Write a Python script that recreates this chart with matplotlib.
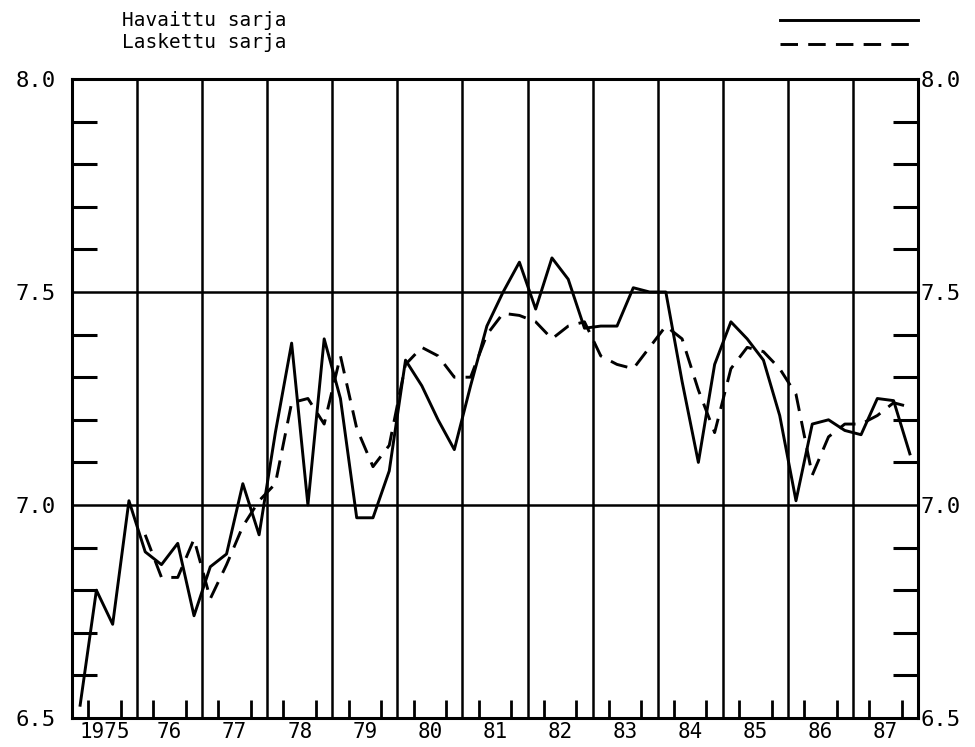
import numpy as np
import matplotlib
matplotlib.use("Agg")
import matplotlib.pyplot as plt
from matplotlib.lines import Line2D
from matplotlib.ticker import MultipleLocator, FixedLocator

plt.rcParams['font.family'] = ['DejaVu Sans Mono']

# quarterly data, 1975-1987
years = list(range(1975, 1988))
year_labels = ['1975', '76', '77', '78', '79', '80', '81', '82', '83', '84', '85', '86', '87']
y_levels = [6.5, 7.0, 7.5, 8.0]

observed = [
    6.53, 6.80, 6.72, 7.01,     # 1975
    6.89, 6.86, 6.91, 6.74,     # 1976
    6.855, 6.885, 7.05, 6.93,   # 1977
    7.17, 7.38, 7.00, 7.39,     # 1978
    7.25, 6.97, 6.97, 7.08,     # 1979
    7.34, 7.28, 7.20, 7.13,     # 1980
    7.28, 7.42, 7.50, 7.57,     # 1981
    7.46, 7.58, 7.53, 7.415,    # 1982
    7.42, 7.42, 7.51, 7.50,     # 1983
    7.50, 7.29, 7.10, 7.33,     # 1984
    7.43, 7.39, 7.34, 7.21,     # 1985
    7.01, 7.19, 7.20, 7.175,    # 1986
    7.165, 7.25, 7.245, 7.12,   # 1987
]

# computed series starts 1976 Q1
computed = [
    6.93, 6.83, 6.83, 6.92,     # 1976
    6.78, 6.86, 6.95, 7.01,     # 1977
    7.05, 7.24, 7.25, 7.19,     # 1978
    7.35, 7.18, 7.09, 7.14,     # 1979
    7.33, 7.37, 7.35, 7.30,     # 1980
    7.30, 7.40, 7.45, 7.445,    # 1981
    7.43, 7.39, 7.42, 7.43,     # 1982
    7.35, 7.33, 7.32, 7.37,     # 1983
    7.42, 7.39, 7.27, 7.17,     # 1984
    7.32, 7.37, 7.36, 7.32,     # 1985
    7.26, 7.07, 7.16, 7.19,     # 1986
    7.19, 7.21, 7.24, 7.23,     # 1987
]

x_obs = np.array([y + (q + 0.5) / 4 for y in years for q in range(4)])
x_comp = x_obs[4:]

fig = plt.figure(figsize=(9.75, 7.47), dpi=100)
ax = fig.add_axes([72 / 975, 1 - 718 / 747, (918 - 72) / 975, (718 - 79) / 747])

lw = 2.1
dash = (6, 3.5)
ax.plot(x_obs, observed, color='black', lw=lw)
ax.plot(x_comp, computed, color='black', lw=lw, dashes=dash)

# year dividers and reference levels
for y in years[1:]:
    ax.axvline(y, color='black', lw=1.8)
for lev in (7.0, 7.5):
    ax.axhline(lev, color='black', lw=1.8)

ax.set_xlim(1975, 1988)
ax.set_ylim(6.5, 8.0)

for s in ax.spines.values():
    s.set_linewidth(2.2)

fmt = plt.FuncFormatter(lambda v, p: f'{v:.1f}')

# right-hand labels sit close to the frame (separate axis for its own pad)
ax2 = ax.twinx()
ax2.set_ylim(ax.get_ylim())
ax2.yaxis.set_major_locator(FixedLocator(y_levels))
ax2.yaxis.set_major_formatter(fmt)
ax2.tick_params(axis='y', which='major', length=0, labelsize=16, pad=2)
for s in ax2.spines.values():
    s.set_visible(False)

# left y axis: labels at half units, tenth ticks pointing in on both sides
ax.yaxis.set_major_locator(FixedLocator(y_levels))
ax.yaxis.set_major_formatter(fmt)
ax.yaxis.set_minor_locator(MultipleLocator(0.1))
ax.tick_params(axis='y', which='major', length=0, labelsize=16, pad=12)
ax.tick_params(axis='y', which='minor', direction='in', length=18, width=2.2,
               left=True, right=True)

# x axis: quarter ticks, year labels centred in each year
quarter_ticks = [y + q / 4 for y in years for q in (1, 2, 3)]
ax.xaxis.set_minor_locator(FixedLocator(quarter_ticks))
ax.xaxis.set_major_locator(FixedLocator([y + 0.5 for y in years]))
ax.set_xticklabels(year_labels)
ax.tick_params(axis='x', which='major', length=0, labelsize=15, pad=3)
ax.tick_params(axis='x', which='minor', direction='in', length=13, width=2.0)

# legend drawn at the top like the plotter output
fig.text(122 / 975, 1 - 21 / 747, 'Havaittu sarja', fontsize=14, va='center', ha='left')
fig.text(122 / 975, 1 - 43 / 747, 'Laskettu sarja', fontsize=14, va='center', ha='left')
fig.add_artist(Line2D([780 / 975, 918 / 975], [1 - 20 / 747, 1 - 20 / 747],
                      color='black', lw=lw, transform=fig.transFigure))
fig.add_artist(Line2D([780 / 975, 918 / 975], [1 - 44 / 747, 1 - 44 / 747],
                      color='black', lw=lw, dashes=dash, transform=fig.transFigure))

fig.savefig('out.png', dpi=100, facecolor='white')
